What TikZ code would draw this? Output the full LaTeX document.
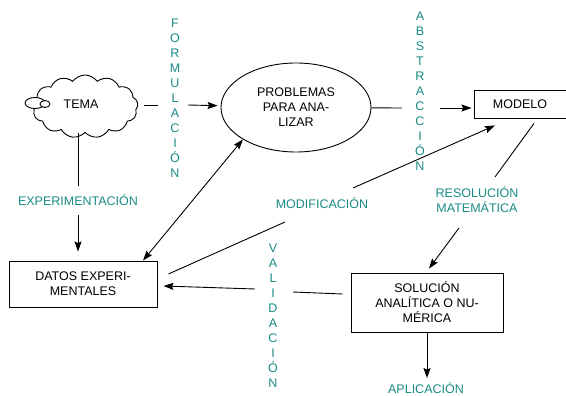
\documentclass[tikz,border=0pt]{standalone}
\usepackage{fontspec}
\setmainfont{Liberation Sans}
\usepackage{tikz}
\usetikzlibrary{shapes.geometric,shapes.symbols,arrows.meta}
\definecolor{verde}{RGB}{25,138,132}

\begin{document}
\begin{tikzpicture}[x=1pt,y=-1pt,line width=0.9pt,
  >={Stealth[length=10pt,width=7pt,inset=1.5pt]},
  every node/.style={font=\fontsize{12.5}{15}\selectfont},
  caja/.style={draw,rectangle,align=center,inner sep=0pt},
  etiqueta/.style={text=verde,align=center,inner sep=0pt}]
\useasboundingbox (0,0) rectangle (566,396);
\clip (0,0) rectangle (566,396);
% nodos
\node [cloud,draw,cloud puffs=13,cloud puff arc=110,aspect=1.7,
       minimum width=106pt,minimum height=63pt,inner sep=0pt] (tema) at (85,106.5) {};
\draw [fill=white] (35,103) ellipse [x radius=10pt,y radius=5.5pt];
\draw [fill=white] (45,104) ellipse [x radius=5pt,y radius=3.5pt];
\node at (81,104) {TEMA};
\node [ellipse,draw,minimum width=150pt,minimum height=89pt,align=center,inner sep=0pt] (prob) at (296,107.5) {PROBLEMAS\\PARA ANA-\\LIZAR};
\node [caja,minimum width=96pt,minimum height=28pt] (mod) at (522,104) {\hspace*{-2pt}MODELO\hspace*{2pt}};
\node [caja,minimum width=148pt,minimum height=46pt] (datos) at (83,284) {DATOS EXPERI-\\MENTALES};
\node [caja,minimum width=152pt,minimum height=59pt] (sol) at (427,302.5) {SOLUCIÓN\\ANALÍTICA O NU-\\MÉRICA};
% etiquetas
\node [etiqueta] (form) at (175,98.5) {F\\O\\R\\M\\U\\L\\A\\C\\I\\Ó\\N};
\node [etiqueta] (abst) at (420,91.5) {A\\B\\S\\T\\R\\A\\C\\C\\I\\Ó\\N};
\node [etiqueta] (vali) at (273,315.5) {V\\A\\L\\I\\D\\A\\C\\I\\Ó\\N};
\node [etiqueta] (expe) at (78,200) {EXPERIMENTACIÓN};
\node [etiqueta] (modi) at (322,203) {MODIFICACIÓN};
\node [etiqueta] (reso) at (477,200) {RESOLUCIÓN\\MATEMÁTICA};
\node [etiqueta] (apli) at (426,388) {APLICACIÓN};
% puntos de corte
\coordinate (f1) at (158,105);
\coordinate (f2) at (188,105);
\coordinate (a1) at (402,108);
\coordinate (a2) at (440,108);
\coordinate (e1) at (78,186);
\coordinate (e2) at (78,215);
\coordinate (m1) at (285,222);
\coordinate (m2) at (353,188);
\coordinate (r1) at (495,177);
\coordinate (r2) at (459,228);
\coordinate (v1) at (293,292);
\coordinate (v2) at (255,289);
% flechas
\draw [shorten <=6pt] (tema.east |- f1) -- (f1);
\draw [->,shorten >=3pt] (f2) -- (prob);
\draw (prob) -- (a1);
\draw [->,shorten >=2pt] (a2) -- (a2 -| mod.west);
\draw (e1 |- tema.south) -- (e1);
\draw [->,shorten >=9pt] (e2) -- (e2 |- datos.north);
\draw [<->] ([xshift=60pt]datos.north) -- (prob.211);
\draw ([xshift=11pt,yshift=10pt]datos.east) -- (m1);
\draw [->] (m2) -- ([xshift=-27pt,yshift=-7pt]mod.south);
\draw ([xshift=12pt,yshift=-5pt]mod.south) -- (r1);
\draw [->] (r2) -- ([xshift=2pt,yshift=4pt]sol.north);
\draw ([xshift=-8pt,yshift=8.5pt]sol.west) -- (v1);
\draw [->] (v2) -- ([xshift=6pt,yshift=-2pt]datos.east);
\draw [->,shorten >=4pt] (sol.south) -- (sol.south |- apli.north);
\end{tikzpicture}
\end{document}
